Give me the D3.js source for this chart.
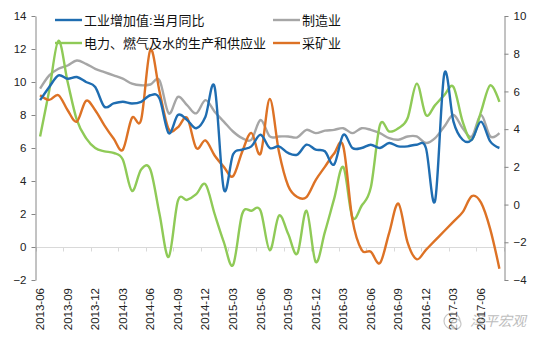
<!DOCTYPE html>
<html>
<head>
<meta charset="utf-8">
<script src="https://cdn.jsdelivr.net/npm/d3@7"></script>
<style>
  body { margin: 0; background: #fff; }
  text { font-family: "Liberation Sans", "Noto Sans CJK SC", sans-serif; }
</style>
</head>
<body>
<div class="chart"></div>
<script>
var months = ['2013-06','2013-07','2013-08','2013-09','2013-10','2013-11','2013-12',
  '2014-01','2014-02','2014-03','2014-04','2014-05','2014-06','2014-07','2014-08','2014-09','2014-10','2014-11','2014-12',
  '2015-01','2015-02','2015-03','2015-04','2015-05','2015-06','2015-07','2015-08','2015-09','2015-10','2015-11','2015-12',
  '2016-01','2016-02','2016-03','2016-04','2016-05','2016-06','2016-07','2016-08','2016-09','2016-10','2016-11','2016-12',
  '2017-01','2017-02','2017-03','2017-04','2017-05','2017-06','2017-07','2017-08'];

// 工业增加值:当月同比 (left axis)
var industry = [8.9,9.7,10.4,10.2,10.3,10.0,9.7, 8.5,8.7,8.8,8.7,8.8,9.2,9.0,6.9,8.0,7.7,7.2,7.9,
  9.7,3.5,5.6,5.9,6.1,6.8,6.0,6.1,5.7,5.6,6.2,5.9,
  5.8,5.0,6.8,6.0,6.0,6.2,6.0,6.3,6.1,6.1,6.2,6.0,
  2.8,10.5,7.6,6.5,6.5,7.6,6.4,6.0];
// 制造业 (left axis)
var manufacturing = [9.6,10.4,10.8,11.0,11.3,11.1,10.8, 10.6,10.4,10.2,9.9,9.8,9.85,10.1,8.1,9.1,8.6,8.1,8.9,
  8.2,7.6,7.0,6.6,6.5,7.7,6.7,6.7,6.7,6.65,7.1,6.9,
  7.05,7.1,7.2,6.9,7.2,7.1,6.9,6.6,6.5,6.7,6.7,6.3,
  6.6,7.3,8.0,7.2,6.7,8.0,6.7,6.9];
// 电力、燃气及水的生产和供应业 (left axis)
var utilities = [6.7,9.5,12.5,10.0,7.7,6.6,6.0, 5.8,5.7,5.3,3.4,4.7,4.7,2.0,-0.6,2.8,2.85,3.2,3.8,
  2.0,0.3,-1.1,2.0,2.2,2.2,-0.2,1.9,0.8,-0.4,2.2,-0.9,
  0.9,2.9,4.85,1.8,2.5,3.6,7.4,7.0,7.2,7.8,9.9,8.0,
  8.6,9.2,9.7,7.6,6.5,8.2,9.8,8.8];
// 采矿业 (right axis)
var mining = [5.8,5.55,5.8,5.0,4.4,5.5,5.0, 4.2,3.5,2.9,4.6,4.5,8.2,6.0,4.0,4.1,4.6,3.0,3.4,
  2.6,2.0,1.5,2.8,3.8,2.7,5.6,2.8,1.0,0.4,0.4,1.3,
  2.0,2.7,3.1,-0.8,-2.4,-2.5,-3.1,-1.5,0.05,-2.0,-2.9,-2.4,
  -1.9,-1.4,-0.9,-0.4,0.45,0.1,-1.3,-3.4];

var leftTicks = [-2,0,2,4,6,8,10,12,14];
var rightTicks = [-4,-2,0,2,4,6,8,10];

var series = [
  { name: '工业增加值:当月同比', values: industry, axis: 'L', color: '#1f6db1' },
  { name: '制造业', values: manufacturing, axis: 'L', color: '#a6a6a6' },
  { name: '电力、燃气及水的生产和供应业', values: utilities, axis: 'L', color: '#8fca57' },
  { name: '采矿业', values: mining, axis: 'R', color: '#dd7225' }
];

var W = 539, H = 343;
var svg = d3.select('.chart').append('svg')
  .attr('width', W).attr('height', H);

var x = d3.scaleBand().domain(months).range([35.5, 504]);
var yL = d3.scaleLinear().domain([-2, 14]).range([280, 16]);
var yR = d3.scaleLinear().domain([-4, 10]).range([280, 16]);
var cx = d => x(d) + x.bandwidth() / 2;

// zero line with category ticks
var y0 = Math.round(yL(0)) + 0.5;
svg.append('line')
  .attr('x1', x.range()[0]).attr('x2', x.range()[1])
  .attr('y1', y0).attr('y2', y0)
  .attr('stroke', '#d9d9d9').attr('stroke-width', 1);
svg.selectAll('.xtick')
  .data(months.filter((d, i) => i % 3 === 0).concat([null]))
  .enter().append('line')
    .attr('x1', d => Math.round(d ? x(d) : x.range()[1]) + 0.5)
    .attr('x2', d => Math.round(d ? x(d) : x.range()[1]) + 0.5)
    .attr('y1', y0).attr('y2', y0 + 4)
    .attr('stroke', '#d9d9d9');

// x labels, every 3 months
svg.selectAll('.xlab')
  .data(months.filter((d, i) => i % 3 === 0))
  .enter().append('text')
    .attr('transform', d => 'translate(' + (cx(d) + 4) + ',288) rotate(-90)')
    .attr('text-anchor', 'end')
    .attr('font-size', 11.5)
    .attr('fill', '#222')
    .text(d => d);

// left axis
var gL = svg.append('g').attr('transform', 'translate(35.5,0)')
  .call(d3.axisLeft(yL).tickValues(leftTicks).tickSize(4).tickSizeOuter(0).tickPadding(5));
// right axis
var gR = svg.append('g').attr('transform', 'translate(504.5,0)')
  .call(d3.axisRight(yR).tickValues(rightTicks).tickSize(4).tickSizeOuter(0).tickPadding(5));
[gL, gR].forEach(function (g) {
  g.select('.domain').attr('stroke', '#868686');
  g.selectAll('.tick line').attr('stroke', '#868686');
  g.selectAll('.tick text').attr('font-size', 11.5).attr('fill', '#222')
    .attr('font-family', '"Liberation Sans", sans-serif');
});

// lines
var drawOrder = [1, 2, 3, 0];
drawOrder.forEach(function (k) {
  var s = series[k];
  var y = s.axis === 'L' ? yL : yR;
  var line = d3.line()
    .x((d, i) => cx(months[i]))
    .y(d => y(d))
    .curve(d3.curveCatmullRom.alpha(0));
  svg.append('path')
    .datum(s.values)
    .attr('d', line)
    .attr('fill', 'none')
    .attr('stroke', s.color)
    .attr('stroke-width', 2.4)
    .attr('stroke-linejoin', 'round');
});

// legend
var legendPos = [[55, 20], [273, 20], [55, 43], [273, 43]];
series.forEach(function (s, i) {
  var p = legendPos[i];
  var g = svg.append('g').attr('transform', 'translate(' + p[0] + ',' + p[1] + ')');
  g.append('line').attr('x1', 0).attr('x2', 27).attr('y1', 0).attr('y2', 0)
    .attr('stroke', s.color).attr('stroke-width', 2.4);
  g.append('text').attr('x', 29).attr('y', 5)
    .attr('font-size', 13)
    .attr('font-family', '"Noto Sans CJK SC", sans-serif')
    .attr('fill', '#111')
    .text(s.name);
});

// watermark
var wm = svg.append('g').attr('transform', 'translate(452,321)').attr('opacity', 0.55);
wm.append('circle').attr('r', 8).attr('fill', 'none').attr('stroke', '#999').attr('stroke-width', 1.2);
wm.append('circle').attr('cx', 4).attr('cy', 3).attr('r', 5).attr('fill', '#fff').attr('stroke', '#999').attr('stroke-width', 1.2);
wm.append('text').attr('x', 18).attr('y', 5)
  .attr('font-size', 14).attr('font-style', 'italic')
  .attr('font-family', '"Noto Sans CJK SC", sans-serif')
  .attr('fill', '#888')
  .text('泽平宏观');
</script>
</body>
</html>
